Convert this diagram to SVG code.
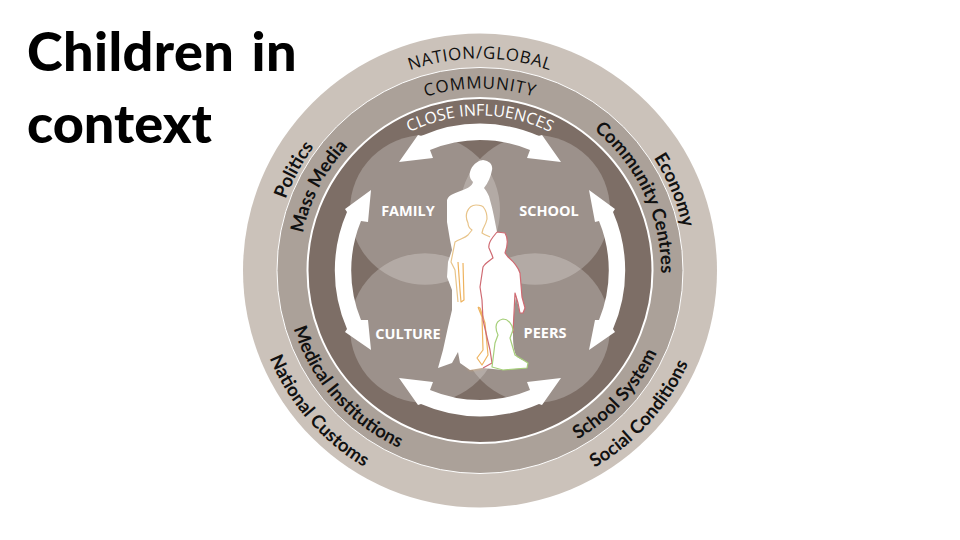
<svg xmlns="http://www.w3.org/2000/svg" width="960" height="540" viewBox="0 0 960 540">
<style>
.title{font:900 54px Lato,"Liberation Sans",sans-serif;fill:#000}
.cap{font:500 17px "Open Sans","Liberation Sans",sans-serif;fill:#111}
.lab{font:700 14.5px "Open Sans","Liberation Sans",sans-serif;fill:#fff}
.side{font:700 18.5px Lato,"Liberation Sans",sans-serif;fill:#111}
.arrow{fill:#fff}
.out{fill:none;stroke-width:1.2;stroke-linejoin:round}
</style>
<defs>
<path id="t212" d="M268 270.5A212 212 0 0 1 692 270.5"/>
<path id="t207" d="M273 270.5A207 207 0 0 1 687 270.5"/>
<path id="t182" d="M298 270.5A182 182 0 0 1 662 270.5"/>
<path id="t181" d="M299 270.5A181 181 0 0 1 661 270.5"/>
<path id="t181b" d="M480 89.5A181 181 0 0 1 654.800 317.300"/>
<path id="t155" d="M325 270.5A155 155 0 0 1 635 270.5"/>
<path id="b228" d="M252 270.5A228 228 0 0 0 708 270.5"/>
<path id="b195" d="M285 270.5A195 195 0 0 0 675 270.5"/>
<filter id="glow" x="-50%" y="-50%" width="200%" height="200%"><feGaussianBlur stdDeviation="1.5"/></filter>
</defs>
<text class="title" x="27" y="71" letter-spacing=".4" word-spacing="4">Children in</text>
<text class="title" x="27" y="143">context</text>
<g id="rings">
<circle cx="480" cy="270.5" r="237" fill="#cbc2ba"/>
<circle cx="480" cy="270.5" r="203" fill="#aba199" stroke="#fff" stroke-width="1"/>
<circle cx="480" cy="270.5" r="172.500" fill="#7d6e66" stroke="#fff" stroke-width="2"/>
</g>
<g id="petals">
<circle cx="425" cy="210" r="75" fill="#9c918b"/>
<circle cx="535" cy="210" r="75" fill="#9c918b"/>
<circle cx="425" cy="328" r="75" fill="#9c918b"/>
<circle cx="535" cy="328" r="75" fill="#9c918b"/>
<path d="M480 159A75 75 0 0 1 480 261A75 75 0 0 1 480 159ZM480 277A75 75 0 0 1 480 379A75 75 0 0 1 480 277ZM379 269A75 75 0 0 1 471 269A75 75 0 0 1 379 269ZM489 269A75 75 0 0 1 581 269A75 75 0 0 1 489 269Z" fill="#b3aaa5"/>
</g>
<g id="connectors">
<path class="arrow" d="M399 162L418 135L421 136A146.400 146.400 0 0 1 539 136L542 135L561 162L527 158L530 150A130 130 0 0 0 430 150L433 158Z"/>
<path class="arrow" d="M399 378L418 405L421 404A146.400 146.400 0 0 0 539 404L542 405L561 378L527 382L530 390A130 130 0 0 1 430 390L433 382Z"/>
<path class="arrow" d="M371 190L345 209L347 212A146.400 146.400 0 0 0 347 329L345 332L371 350L368 320L361 320A130 130 0 0 1 361 221L368 222Z"/>
<path class="arrow" d="M589 190L615 209L613 212A146.400 146.400 0 0 1 613 329L615 332L589 350L595 320L599 320A130 130 0 0 0 599 221L595 222Z"/>
</g>
<g id="figures">
<path fill="#f3b56b" opacity=".7" filter="url(#glow)" d="M460 356L470 370L483 368L478 358Z"/>
<path fill="#fff" d="M483 160C490 161 493 165 492 170C491 176 488 183 484 188C487 192 489 195 490 200C493 210 495 222 497 232L505 233C508 238 508 245 505 253L508 257C514 262 518 267 520 273L522 297L525 308L523 313L520 313L516 296C514 310 513 325 513 335C513 345 514 352 517 357C522 360 526 361 528 363L527 368L503 370L493 369L482 368L470 370L460 363L458 352L452 363L438 368L443 350L448 327L452 310L452 290L447 277L448 262L452 250L450 240L447 222L447 200C449 194 456 193 463 190C468 188 472 186 473 182C470 179 469 175 470 172C472 165 477 161 483 160Z"/>
<path class="out" stroke="#e8c48a" d="M458 302L455 270L451 262L455 242C460 239 465 238 468 235L472 230C469 228 468 226 468 223C466 219 466 215 467 212C469 207 473 205 476 205C480 205 483 206 484 208C487 212 487 217 487 219C486 224 484 227 483 229L482 233C485 235 488 236 490 237"/>
<path class="out" stroke="#eeb35f" d="M458 262L460 290L461 302L464 300L463 263M478 307L482 317L483 350L477 358L482 365L488 355L485 323L480 308L478 307"/>
<path class="out" stroke="#cf6a72" d="M493 237C490 241 488 244 489 248L492 255L493 258C489 261 485 263 483 267L480 287L482 300L483 320L490 350L492 363L483 368M497 232L505 233C508 238 508 245 505 253L508 257C514 262 518 267 520 273L522 297L525 308L523 313L520 313L518 303L515 293L513 333M493 237L497 232"/>
<path class="out" stroke="#a6cf7a" d="M503 319C499 320 496 323 496 327C496 331 497 333 498 335L495 343L492 367L503 370L527 368L528 363L515 355L510 338L513 330C513 325 508 319 503 319Z"/>
</g>
<g id="n-family"><text class="lab" x="408" y="216" text-anchor="middle">FAMILY</text></g>
<g id="n-school"><text class="lab" x="549" y="216" text-anchor="middle">SCHOOL</text></g>
<g id="n-culture"><text class="lab" x="408" y="339" text-anchor="middle">CULTURE</text></g>
<g id="n-peers"><text class="lab" x="545" y="338" text-anchor="middle">PEERS</text></g>
<g id="ring-labels">
<text class="cap" letter-spacing=".6"><textPath href="#t212" startOffset="50%" text-anchor="middle">NATION/GLOBAL</textPath></text>
<text class="cap" letter-spacing=".8"><textPath href="#t182" startOffset="50%" text-anchor="middle">COMMUNITY</textPath></text>
<text class="cap" style="fill:#fff;font-size:16px;font-weight:400"><textPath href="#t155" startOffset="50%" text-anchor="middle">CLOSE INFLUENCES</textPath></text>
<text class="side"><textPath href="#t207" startOffset="15.800%" text-anchor="middle">Politics</textPath></text>
<text class="side"><textPath href="#t181" startOffset="15.300%" text-anchor="middle">Mass Media</textPath></text>
<text class="side"><textPath href="#t207" startOffset="87.500%" text-anchor="middle">Economy</textPath></text>
<text class="side"><textPath href="#t181b" startOffset="205" text-anchor="middle">Community Centres</textPath></text>
<text class="side"><textPath href="#b228" startOffset="22.800%" text-anchor="middle">National Customs</textPath></text>
<text class="side"><textPath href="#b195" startOffset="23%" text-anchor="middle">Medical Institutions</textPath></text>
<text class="side"><textPath href="#b228" startOffset="76.700%" text-anchor="middle">Social Conditions</textPath></text>
<text class="side"><textPath href="#b195" startOffset="76.400%" text-anchor="middle">School System</textPath></text>
</g>
</svg>
